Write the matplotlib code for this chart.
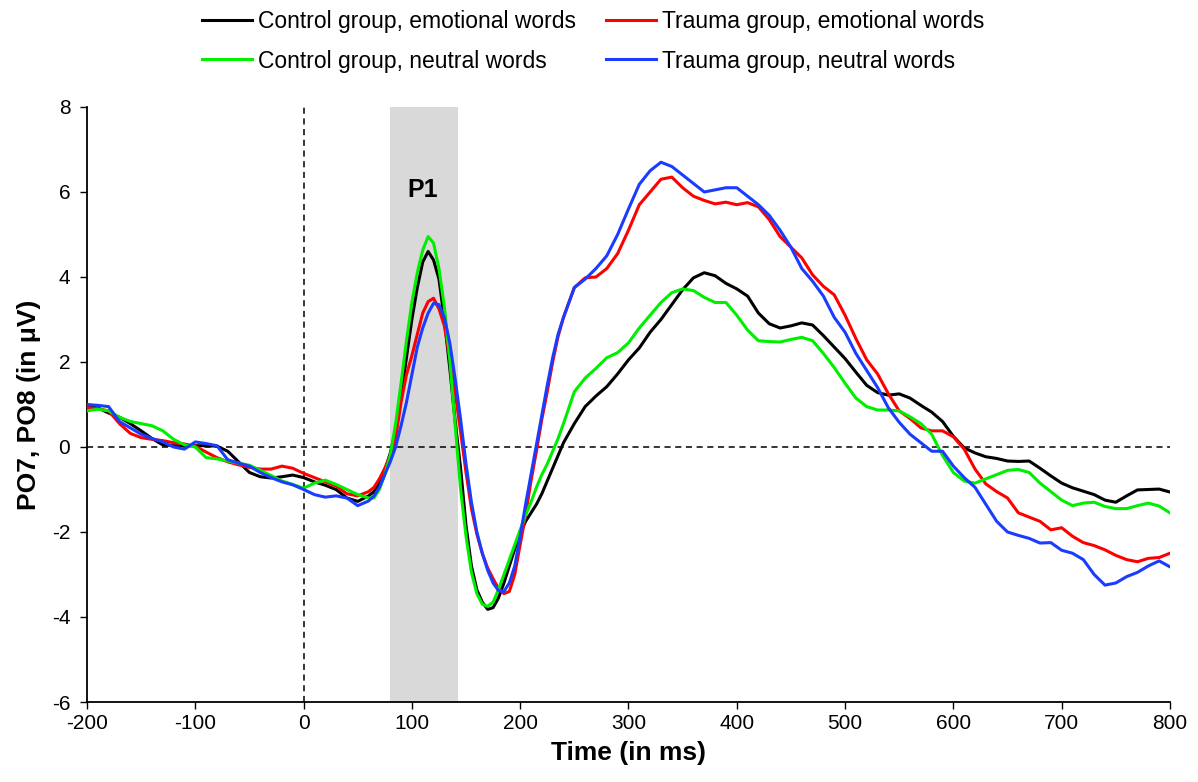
import numpy as np
import matplotlib
matplotlib.use("Agg")
import matplotlib.pyplot as plt

plt.rcParams['font.family'] = ['Liberation Sans', 'DejaVu Sans']
plt.rcParams['axes.unicode_minus'] = False

# time axis (ms): 10 ms steps, 5 ms steps around P1 / N1
time_ms = list(range(-200, 61, 10)) + list(range(65, 241, 5)) + list(range(250, 801, 10))

control_emotional = [
    0.95, 0.92, 0.8, 0.7, 0.55, 0.38, 0.2, 0.05, 0.03, 0.03, 0.03, 0.03, 0.02, -0.1,
    -0.35, -0.6, -0.7, -0.73, -0.7, -0.66, -0.72, -0.82, -0.9, -1.0, -1.2, -1.28, -1.15,
    -1.05, -0.85, -0.55, -0.15, 0.4, 1.2, 2.1, 3.0, 3.75, 4.35, 4.6, 4.4, 3.95, 3.0,
    1.85, 0.6, -0.5, -1.85, -2.8, -3.36, -3.65, -3.82, -3.78, -3.55, -3.2, -2.8, -2.4,
    -2.05, -1.75, -1.55, -1.35, -1.1, -0.8, -0.5, -0.2, 0.1,
    0.55, 0.95, 1.2, 1.42, 1.72, 2.05, 2.33, 2.7, 3.0, 3.35, 3.7, 3.98, 4.1, 4.03,
    3.85, 3.72, 3.55, 3.15, 2.9, 2.8, 2.85, 2.92, 2.87, 2.62, 2.35, 2.08, 1.76, 1.45,
    1.28, 1.22, 1.25, 1.15, 0.98, 0.82, 0.6, 0.25, -0.02, -0.14, -0.23, -0.27, -0.33,
    -0.34, -0.33, -0.5, -0.68, -0.85, -0.96, -1.04, -1.12, -1.25, -1.3, -1.15, -1.01,
    -1.0, -0.99, -1.06]

trauma_emotional = [
    0.93, 0.9, 0.85, 0.55, 0.32, 0.22, 0.18, 0.15, 0.1, 0.07, 0.02, -0.12, -0.25, -0.35,
    -0.42, -0.48, -0.52, -0.52, -0.45, -0.5, -0.62, -0.72, -0.82, -0.92, -1.1, -1.15, -1.05,
    -0.95, -0.75, -0.5, -0.2, 0.2, 1.05, 1.7, 2.15, 2.65, 3.15, 3.42, 3.5, 3.25, 2.85,
    2.1, 1.3, 0.35, -0.6, -1.45, -2.05, -2.5, -2.85, -3.1, -3.33, -3.45, -3.4, -3.0,
    -2.3, -1.6, -0.8, -0.1, 0.65, 1.3, 2.0, 2.6, 3.05,
    3.75, 3.98, 4.0, 4.2, 4.55, 5.1, 5.7, 6.0, 6.3, 6.35, 6.1, 5.9, 5.8, 5.72,
    5.76, 5.7, 5.75, 5.65, 5.35, 4.95, 4.7, 4.45, 4.05, 3.78, 3.58, 3.1, 2.55, 2.05,
    1.72, 1.25, 0.85, 0.67, 0.45, 0.38, 0.38, 0.24, -0.05, -0.52, -0.87, -1.05, -1.2,
    -1.55, -1.65, -1.75, -1.95, -1.9, -2.1, -2.25, -2.32, -2.42, -2.55, -2.65, -2.7,
    -2.62, -2.6, -2.5]

control_neutral = [
    0.85, 0.89, 0.85, 0.7, 0.6, 0.55, 0.5, 0.38, 0.18, 0.05, 0.0, -0.25, -0.28, -0.33,
    -0.38, -0.43, -0.55, -0.67, -0.8, -0.88, -0.97, -0.85, -0.78, -0.88, -1.0, -1.12, -1.2,
    -1.2, -1.0, -0.65, -0.2, 0.55, 1.5, 2.5, 3.4, 4.1, 4.63, 4.95, 4.8, 4.2, 3.3,
    2.05, 0.5, -1.0, -2.1, -2.95, -3.45, -3.7, -3.75, -3.65, -3.35, -3.0, -2.65, -2.3,
    -1.95, -1.6, -1.3, -0.95, -0.65, -0.4, -0.1, 0.2, 0.55,
    1.3, 1.62, 1.85, 2.1, 2.22, 2.45, 2.8, 3.1, 3.4, 3.63, 3.72, 3.68, 3.52, 3.4,
    3.4, 3.1, 2.75, 2.5, 2.48, 2.47, 2.53, 2.58, 2.5, 2.2, 1.87, 1.5, 1.15, 0.95,
    0.87, 0.87, 0.85, 0.71, 0.55, 0.3, -0.2, -0.6, -0.8, -0.85, -0.75, -0.65, -0.55,
    -0.53, -0.6, -0.85, -1.05, -1.25, -1.38, -1.32, -1.3, -1.4, -1.45, -1.45, -1.38,
    -1.32, -1.39, -1.55]

trauma_neutral = [
    1.0, 0.98, 0.95, 0.6, 0.45, 0.3, 0.2, 0.12, 0.0, -0.05, 0.12, 0.08, 0.03, -0.3,
    -0.38, -0.45, -0.6, -0.72, -0.82, -0.89, -1.0, -1.12, -1.18, -1.15, -1.2, -1.38, -1.27,
    -1.15, -0.95, -0.65, -0.35, 0.0, 0.5, 1.05, 1.7, 2.35, 2.8, 3.15, 3.38, 3.35, 3.05,
    2.45, 1.6, 0.65, -0.4, -1.3, -2.0, -2.5, -2.9, -3.2, -3.38, -3.4, -3.2, -2.8,
    -2.1, -1.35, -0.65, 0.05, 0.75, 1.45, 2.1, 2.65, 3.05,
    3.75, 3.95, 4.2, 4.5, 5.0, 5.6, 6.18, 6.5, 6.7, 6.6, 6.4, 6.2, 6.0, 6.05,
    6.1, 6.1, 5.9, 5.7, 5.45, 5.1, 4.7, 4.2, 3.9, 3.55, 3.05, 2.7, 2.2, 1.8,
    1.4, 0.92, 0.58, 0.3, 0.1, -0.1, -0.1, -0.45, -0.72, -0.95, -1.35, -1.75, -2.0,
    -2.08, -2.15, -2.26, -2.25, -2.43, -2.5, -2.65, -3.0, -3.25, -3.2, -3.05, -2.95,
    -2.8, -2.68, -2.82]

labels = ['Control group, emotional words', 'Trauma group, emotional words',
          'Control group, neutral words', 'Trauma group, neutral words']
colors = ['#000000', '#ff0000', '#00ee00', '#1a3cff']
series = [control_emotional, trauma_emotional, control_neutral, trauma_neutral]

p1_window = (80, 143)

fig = plt.figure(figsize=(11.98, 7.82), dpi=100)
ax = fig.add_axes([0.0726, 0.1023, 0.904, 0.7609])

ax.axvspan(p1_window[0], p1_window[1], color='#d9d9d9', lw=0, zorder=0)
ax.axhline(0, color='black', ls='--', lw=1.1, dashes=(4, 3), zorder=1)
ax.axvline(0, color='black', ls='--', lw=1.1, dashes=(4, 3), zorder=1)

lines = []
for vals, c, lab in zip(series, colors, labels):
    ln, = ax.plot(time_ms, vals, color=c, lw=2.2, label=lab, zorder=3,
                  solid_joinstyle='round')
    lines.append(ln)

ax.text(110, 6.05, 'P1', ha='center', va='center', fontsize=18, fontweight='bold')

ax.set_xlim(-200, 800)
ax.set_ylim(-6, 8)
ax.set_xticks(range(-200, 801, 100))
ax.set_yticks(range(-6, 9, 2))
ax.tick_params(direction='out', length=5, width=1, labelsize=15, colors='black')
ax.tick_params(axis='y', pad=7)
for side in ['top', 'right']:
    ax.spines[side].set_visible(False)
for side in ['left', 'bottom']:
    ax.spines[side].set_linewidth(1.3)

ax.set_xlabel('Time (in ms)', fontsize=19, fontweight='bold', labelpad=6)
ax.set_ylabel('PO7, PO8 (in μV)', fontsize=19, fontweight='bold', labelpad=8)

# column-first fill: col 1 = control, col 2 = trauma
order = [0, 2, 1, 3]
fig.legend(handles=[lines[i] for i in order], loc='upper center',
           bbox_to_anchor=(0.495, 1.013), ncol=2, frameon=False, fontsize=16.5,
           handlelength=2.2, handletextpad=0.25, columnspacing=1.3,
           labelspacing=0.7)

fig.savefig('out.png', dpi=100)
